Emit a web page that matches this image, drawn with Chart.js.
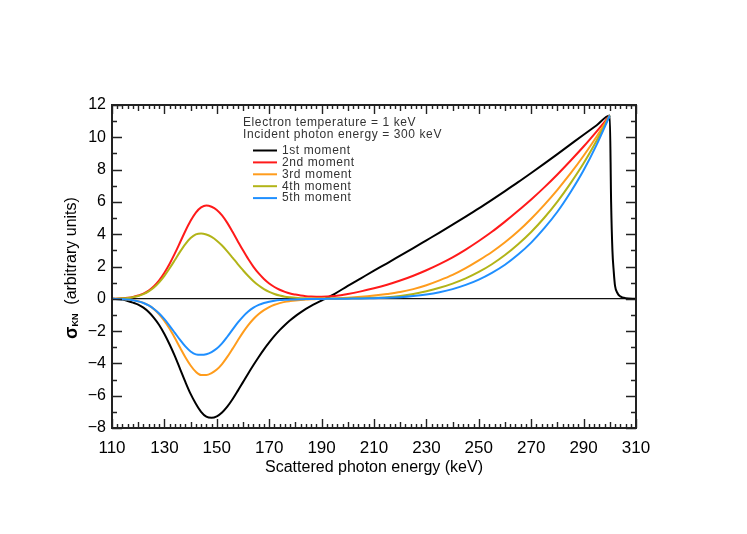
<!DOCTYPE html>
<html lang="en">
<head>
<meta charset="UTF-8">
<title>Klein-Nishina moments</title>
<style>
  html, body { margin: 0; padding: 0; background: #fff; }
</style>
</head>
<body>
<canvas id="myChart" width="747" height="534"></canvas>

<script src="https://cdn.jsdelivr.net/npm/chart.js@4.4.0/dist/chart.umd.min.js"></script>
<script>
// scattered photon energy (keV)
const energy = [110,
  114, 116, 118, 120, 122, 124, 126, 128, 130, 132, 134, 136, 138, 140, 142, 144, 146, 148, 150, 152,
  154, 156, 158, 160, 162, 164, 166, 168, 170, 172, 174, 176, 178, 180, 182, 184, 186, 188, 190, 192,
  195, 200, 205, 210, 215, 220, 225, 230, 235, 240, 245, 250, 255, 260, 265, 270, 275, 280, 285, 290, 295, 300,
  300.5, 301, 301.5, 302, 303, 304, 306, 310];

// moments (arbitrary units); null = not drawn
const moment1 = [0,
  -0.05, -0.14, -0.24, -0.36, -0.55, -0.82, -1.18, -1.62, -2.18, -2.83, -3.55, -4.35, -5.15, -5.89, -6.5, -7.0, -7.3, -7.37, -7.28, -7.04,
  -6.68, -6.22, -5.7, -5.16, -4.62, -4.1, -3.6, -3.13, -2.7, -2.3, -1.94, -1.62, -1.33, -1.07, -0.84, -0.63, -0.44, -0.27, -0.11, 0.05,
  0.31, 0.8, 1.27, 1.74, 2.2, 2.67, 3.14, 3.62, 4.1, 4.59, 5.09, 5.6, 6.13, 6.67, 7.22, 7.79, 8.37, 8.96, 9.56, 10.16, 10.75, 11.35,
  6.0, 3.0, 1.7, 0.8, 0.33, 0.15, 0.04, 0];
const moment2 = [0,
  0.03, 0.06, 0.11, 0.2, 0.32, 0.51, 0.78, 1.14, 1.61, 2.17, 2.81, 3.5, 4.2, 4.83, 5.34, 5.66, 5.78, 5.7, 5.5, 5.16,
  4.7, 4.15, 3.57, 3.0, 2.46, 1.98, 1.57, 1.23, 0.95, 0.73, 0.56, 0.43, 0.33, 0.26, 0.2, 0.16, 0.14, 0.13, 0.13, 0.14,
  0.18, 0.3, 0.46, 0.65, 0.87, 1.13, 1.43, 1.77, 2.15, 2.57, 3.05, 3.58, 4.15, 4.78, 5.45, 6.15, 6.9, 7.7, 8.55, 9.43, 10.37, 11.35,
  null, null, null, null, null, null, null, null];
const moment3 = [0,
  -0.02, -0.05, -0.08, -0.15, -0.25, -0.41, -0.64, -0.96, -1.37, -1.86, -2.43, -3.03, -3.62, -4.13, -4.52, -4.72, -4.72, -4.6, -4.38, -4.04,
  -3.6, -3.1, -2.58, -2.08, -1.63, -1.25, -0.94, -0.7, -0.51, -0.37, -0.27, -0.19, -0.14, -0.1, -0.07, -0.05, -0.03, -0.02, -0.01, 0.0,
  0.02, 0.06, 0.12, 0.2, 0.3, 0.42, 0.6, 0.84, 1.14, 1.48, 1.9, 2.38, 2.9, 3.5, 4.18, 4.96, 5.82, 6.75, 7.76, 8.86, 10.05, 11.35,
  null, null, null, null, null, null, null, null];
const moment4 = [0,
  0.03, 0.05, 0.1, 0.17, 0.29, 0.46, 0.7, 1.02, 1.42, 1.89, 2.4, 2.92, 3.39, 3.76, 3.99, 4.05, 3.98, 3.83, 3.6, 3.3,
  2.94, 2.55, 2.15, 1.77, 1.41, 1.09, 0.82, 0.6, 0.43, 0.3, 0.2, 0.13, 0.09, 0.06, 0.04, 0.03, 0.02, 0.02, 0.02, 0.02,
  0.02, 0.03, 0.04, 0.06, 0.1, 0.18, 0.3, 0.47, 0.68, 0.94, 1.26, 1.66, 2.14, 2.71, 3.38, 4.14, 5.02, 6.02, 7.15, 8.39, 9.8, 11.35,
  null, null, null, null, null, null, null, null];
const moment5 = [0,
  -0.03, -0.05, -0.09, -0.16, -0.26, -0.41, -0.63, -0.91, -1.26, -1.67, -2.11, -2.55, -2.95, -3.26, -3.44, -3.47, -3.43, -3.3, -3.08, -2.76,
  -2.35, -1.91, -1.48, -1.1, -0.79, -0.55, -0.38, -0.26, -0.18, -0.12, -0.08, -0.06, -0.05, -0.04, -0.03, -0.02, -0.02, -0.01, -0.01, 0,
  0.0, 0.01, 0.02, 0.04, 0.06, 0.1, 0.17, 0.27, 0.41, 0.6, 0.86, 1.19, 1.61, 2.11, 2.74, 3.48, 4.37, 5.39, 6.6, 7.96, 9.55, 11.35,
  null, null, null, null, null, null, null, null];

const seriesNames = ['1st moment', '2nd moment', '3rd moment', '4th moment', '5th moment'];
const seriesColors = ['#000000', '#ff1a1a', '#ff9c1c', '#b2b418', '#1f8fff'];
const seriesValues = [moment1, moment2, moment3, moment4, moment5];
const infoLines = ['Electron temperature = 1 keV', 'Incident photon energy = 300 keV'];

const FONT = "'Liberation Sans', Arial, sans-serif";

function toPoints(vals) {
  const pts = [];
  energy.forEach((e, i) => { if (vals[i] !== null) pts.push({x: e, y: vals[i]}); });
  return pts;
}

// frame + inward ticks on all four sides (IDL style)
const frameTicks = {
  id: 'frameTicks',
  afterDraw(chart) {
    const {ctx, chartArea: a, scales: {x, y}} = chart;
    ctx.save();
    ctx.strokeStyle = '#222';
    ctx.lineWidth = 1.4;
    ctx.beginPath();
    for (let v = x.min; v <= x.max + 0.001; v += 2) {
      const px = Math.round(x.getPixelForValue(v)) + 0.5;
      const len = (v - x.min) % 20 === 0 ? 9 : ((v % 10 === 0) ? 6 : 4);
      ctx.moveTo(px, a.bottom); ctx.lineTo(px, a.bottom - len);
      ctx.moveTo(px, a.top); ctx.lineTo(px, a.top + len);
    }
    for (let v = y.min; v <= y.max + 0.001; v += 1) {
      const py = Math.round(y.getPixelForValue(v)) + 0.5;
      const len = v % 2 === 0 ? 10 : 5;
      ctx.moveTo(a.left, py); ctx.lineTo(a.left + len, py);
      ctx.moveTo(a.right, py); ctx.lineTo(a.right - len, py);
    }
    ctx.stroke();
    ctx.lineWidth = 2;
    ctx.strokeRect(a.left, a.top, a.right - a.left, a.bottom - a.top);
    ctx.restore();
  }
};

// text block + legend inside the plot
const infoLegend = {
  id: 'infoLegend',
  afterDraw(chart) {
    const ctx = chart.ctx;
    ctx.save();
    ctx.fillStyle = '#333';
    ctx.font = '12px ' + FONT;
    ctx.textBaseline = 'middle';
    ctx.letterSpacing = '0.6px';
    infoLines.forEach((t, i) => ctx.fillText(t, 243, 122.5 + i * 12));
    chart.data.datasets.forEach((ds, i) => {
      const yy = 150.5 + i * 11.9;
      ctx.strokeStyle = ds.borderColor;
      ctx.lineWidth = 2;
      ctx.beginPath();
      ctx.moveTo(253, yy); ctx.lineTo(277, yy);
      ctx.stroke();
      ctx.fillText(ds.label, 282, yy);
    });
    ctx.restore();
  }
};

// y-axis title with subscript
const yTitle = {
  id: 'yTitle',
  afterDraw(chart) {
    const ctx = chart.ctx;
    const parts = [
      {t: 'σ', f: 'bold 18px ' + FONT, dy: 0},
      {t: 'KN', f: 'bold 9px ' + FONT, dy: 4},
      {t: '  (arbitrary units)', f: '16px ' + FONT, dy: 0}
    ];
    ctx.save();
    ctx.translate(72, 268);
    ctx.rotate(-Math.PI / 2);
    ctx.fillStyle = '#000';
    ctx.textBaseline = 'middle';
    let total = 0;
    parts.forEach(p => { ctx.font = p.f; p.w = ctx.measureText(p.t).width; total += p.w; });
    let cx = -total / 2;
    parts.forEach(p => { ctx.font = p.f; ctx.fillText(p.t, cx, p.dy); cx += p.w; });
    ctx.restore();
  }
};

const ctx = document.getElementById('myChart').getContext('2d');
const chart = new Chart(ctx, {
  type: 'line',
  data: {
    datasets: seriesValues.map((vals, i) => ({
      label: seriesNames[i],
      data: toPoints(vals),
      borderColor: seriesColors[i],
      backgroundColor: seriesColors[i],
      borderWidth: 2,
      pointRadius: 0,
      cubicInterpolationMode: 'monotone',
      order: 5 - i
    }))
  },
  options: {
    responsive: false,
    animation: false,
    devicePixelRatio: 1,
    layout: { padding: { left: 0, top: 105, right: 111, bottom: 0 } },
    plugins: { legend: { display: false }, tooltip: { enabled: false } },
    scales: {
      x: {
        type: 'linear',
        min: 110,
        max: 310,
        ticks: { stepSize: 20, color: '#000', font: { family: FONT, size: 17 }, padding: 2, maxRotation: 0 },
        grid: { display: false },
        border: { display: false },
        title: { display: true, text: 'Scattered photon energy (keV)', color: '#000',
                 font: { family: FONT, size: 16 }, padding: { top: 0, bottom: 57 } },
        afterFit: s => { s.height = 106; }
      },
      y: {
        type: 'linear',
        min: -8,
        max: 12,
        ticks: { stepSize: 2, color: '#000', font: { family: FONT, size: 16 }, padding: 6,
                 callback: v => (v < 0 ? '\u2212' + Math.abs(v) : String(v)) },
        grid: { drawTicks: false, lineWidth: 1.2,
                color: c => (c.tick && c.tick.value === 0 ? '#111' : 'rgba(0,0,0,0)') },
        border: { display: false },
        afterFit: s => { s.width = 112; }
      }
    }
  },
  plugins: [frameTicks, infoLegend, yTitle]
});
</script>
</body>
</html>
